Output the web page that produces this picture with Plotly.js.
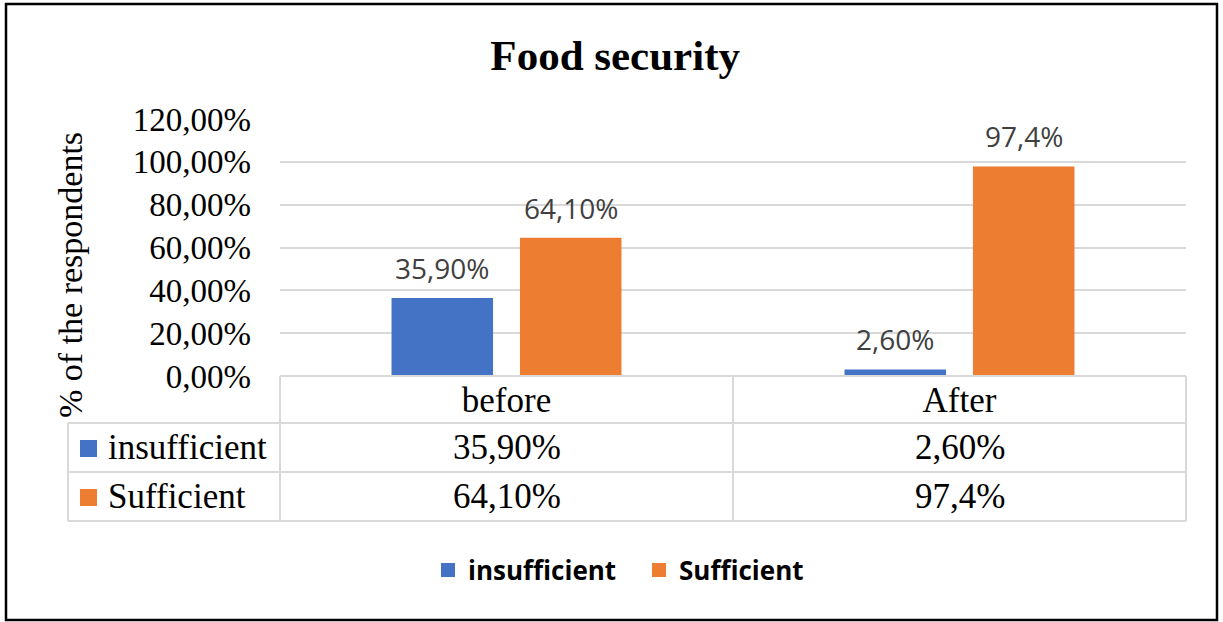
<!DOCTYPE html>
<html>
<head>
<meta charset="utf-8">
<script src="https://cdn.plot.ly/plotly-3.0.1.min.js"></script>
<style>html,body{margin:0;padding:0;background:#fff;}#chart{width:1223px;height:622px;}</style>
</head>
<body>
<div id="chart"></div>
<script>
// ---- data ----
var categories = ["before", "After"];
var seriesNames = ["insufficient", "Sufficient"];
var insufficientValues = [35.9, 2.6];
var sufficientValues = [64.1, 97.4];
var insufficientLabels = ["35,90%", "2,60%"];
var sufficientLabels = ["64,10%", "97,4%"];
var colors = ["#4472C4", "#ED7D31"];
var chartTitle = "Food security";
var yTitle = "% of the respondents";

// ---- layout helpers ----
var W = 1223, H = 622;
var mL = 280, mR = 37, mT = 119, mB = 246;
var pw = W - mL - mR, ph = H - mT - mB;
function px(x) { return (x - mL) / pw; }
function py(y) { return (H - mB - y) / ph; }

var bargap = 0.433, bargroupgap = 0.225;
var slot = (1 - bargap) / 2;

var values = [insufficientValues, sufficientValues];
var labels = [insufficientLabels, sufficientLabels];

var traces = values.map(function (v, j) {
  return {
    type: "bar",
    name: seriesNames[j],
    x: categories,
    y: v,
    marker: { color: colors[j], line: { color: colors[j], width: 2 } },
    hoverinfo: "skip"
  };
});

var annotations = [];
// data labels above bars
values.forEach(function (v, j) {
  v.forEach(function (val, i) {
    annotations.push({
      x: i + (j - 0.5) * slot, xref: "x",
      y: val, yref: "y",
      text: labels[j][i], showarrow: false,
      xanchor: "center", yanchor: "middle", yshift: 31,
      font: { family: "Open Sans", size: 28, color: "#404040" }
    });
  });
});
// table cells
var rowCenters = [py(447), py(496)];
values.forEach(function (v, j) {
  v.forEach(function (val, i) {
    annotations.push({
      x: i, xref: "x", y: rowCenters[j], yref: "paper",
      text: labels[j][i], showarrow: false,
      xanchor: "center", yanchor: "middle",
      font: { family: "Liberation Serif", size: 35, color: "#000" }
    });
  });
  annotations.push({
    x: px(106), xref: "paper", y: rowCenters[j], yref: "paper",
    text: seriesNames[j], showarrow: false,
    xanchor: "left", yanchor: "middle",
    font: { family: "Liberation Serif", size: 35, color: "#000" }
  });
});
// y axis title
annotations.push({
  x: px(70), xref: "paper", y: py(275), yref: "paper",
  text: yTitle, showarrow: false, textangle: -90,
  xanchor: "center", yanchor: "middle",
  font: { family: "Liberation Serif", size: 34, color: "#000" }
});

var gridC = "#D9D9D9";
var shapes = [];
function hline(x0, x1, y) {
  shapes.push({ type: "line", xref: "paper", yref: "paper", x0: px(x0), x1: px(x1), y0: py(y), y1: py(y), line: { color: gridC, width: 2 } });
}
function vline(x, y0, y1) {
  shapes.push({ type: "line", xref: "paper", yref: "paper", x0: px(x), x1: px(x), y0: py(y0), y1: py(y1), line: { color: gridC, width: 2 } });
}
hline(280, 1186, 376);
hline(68, 1186, 423);
hline(68, 1186, 472);
hline(68, 1186, 521);
vline(68, 423, 521);
vline(280, 376, 521);
vline(733, 376, 521);
vline(1186, 376, 521);
// legend keys in table
[440, 489].forEach(function (y, j) {
  shapes.push({ type: "rect", xref: "paper", yref: "paper", x0: px(80), x1: px(97), y0: py(y), y1: py(y + 17), fillcolor: colors[j], line: { width: 0 } });
});
// outer border
shapes.push({ type: "rect", xref: "paper", yref: "paper", x0: px(6), x1: px(1217), y0: py(4), y1: py(620), line: { color: "#000", width: 2.5 }, fillcolor: "rgba(0,0,0,0)" });

var layout = {
  width: W, height: H,
  margin: { l: mL, r: mR, t: mT, b: mB, pad: 0 },
  paper_bgcolor: "#fff", plot_bgcolor: "#fff",
  separators: ", ",
  title: {
    text: chartTitle, x: 0.503, xanchor: "center", y: 1 - 55 / H, yanchor: "middle",
    font: { family: "Liberation Serif", size: 43, color: "#000", weight: "bold" }
  },
  barmode: "group", bargap: bargap, bargroupgap: bargroupgap,
  xaxis: {
    type: "category", range: [-0.5, 1.5],
    showgrid: false, zeroline: false, showline: false, ticks: "",
    tickfont: { family: "Liberation Serif", size: 35, color: "#000" },
    ticklabelstandoff: 0, fixedrange: true
  },
  yaxis: {
    range: [0, 120], dtick: 20, tick0: 0,
    tickformat: ".2f", ticksuffix: "%",
    showgrid: true, gridcolor: gridC, gridwidth: 2,
    zeroline: false, showline: false, ticks: "",
    tickfont: { family: "Liberation Serif", size: 33, color: "#000" },
    ticklabelstandoff: 28, fixedrange: true
  },
  showlegend: true,
  legend: {
    orientation: "h", x: px(639), xanchor: "center", y: py(570), yanchor: "middle",
    font: { family: "Open Sans", size: 26, color: "#000", weight: "bold" },
    entrywidth: 166, entrywidthmode: "pixels",
    itemwidth: 30, bgcolor: "rgba(0,0,0,0)"
  },
  annotations: annotations,
  shapes: shapes
};

Plotly.newPlot("chart", traces, layout, { displayModeBar: false, staticPlot: true });
</script>
</body>
</html>
